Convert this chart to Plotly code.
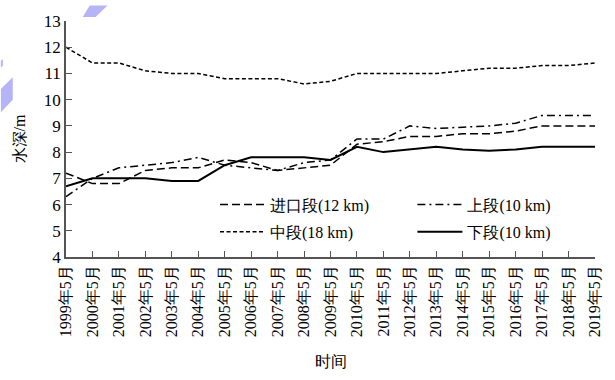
import plotly.graph_objects as go

years = [str(y) for y in range(1999, 2020)]
tick_labels = [f"{y}年5月" for y in range(1999, 2020)]

inlet = [7.2, 6.8, 6.8, 7.3, 7.4, 7.4, 7.7, 7.6, 7.3, 7.4, 7.5, 8.3, 8.4, 8.6, 8.6, 8.7, 8.7, 8.8, 9.0, 9.0, 9.0]
upper = [6.3, 7.0, 7.4, 7.5, 7.6, 7.8, 7.5, 7.4, 7.3, 7.6, 7.7, 8.5, 8.5, 9.0, 8.9, 8.95, 9.0, 9.1, 9.4, 9.4, 9.4]
middle = [12.0, 11.4, 11.4, 11.1, 11.0, 11.0, 10.8, 10.8, 10.8, 10.6, 10.7, 11.0, 11.0, 11.0, 11.0, 11.1, 11.2, 11.2, 11.3, 11.3, 11.4]
lower = [6.7, 7.0, 7.0, 7.0, 6.9, 6.9, 7.5, 7.8, 7.8, 7.8, 7.7, 8.2, 8.0, 8.1, 8.2, 8.1, 8.05, 8.1, 8.2, 8.2, 8.2]

names = ["进口段(12 km)", "上段(10 km)", "中段(18 km)", "下段(10 km)"]
series = [inlet, upper, middle, lower]
dashes = ["8px,4px", "8px,4px,2px,4px", "4px,2.5px", "solid"]
widths = [1.5, 1.5, 1.5, 2]
legend_ids = ["legend", "legend2", "legend3", "legend4"]

FONT = "Liberation Serif"

W, H = 615, 380
L, R, T, B = 66, 13, 16, 121
PW, PH = W - L - R, H - T - B

def px(x):
    return (x - L) / PW

def py(y):
    return (H - B - y) / PH

fig = go.Figure()
xi = list(range(len(years)))
for n, s, d, w, lg in zip(names, series, dashes, widths, legend_ids):
    fig.add_trace(go.Scatter(x=xi, y=s, mode="lines", name=n, legend=lg,
                             line=dict(color="black", width=w, dash=d)))

def poly(pts):
    return "M " + " L ".join(f"{px(a):.4f},{py(b):.4f}" for a, b in pts) + " Z"

shapes = []
for pts in [[(83, 12), (96, 12), (108, 0), (90, 0)],
            [(0, 86), (12, 74), (12, 97), (0, 110)],
            [(0, 57), (2, 55), (2, 62), (0, 64)]]:
    shapes.append(dict(type="path", xref="paper", yref="paper", path=poly(pts),
                       fillcolor="#b4b4f6", line=dict(width=0), layer="above"))

leg_pos = {"legend": (217, 205), "legend2": (417, 205),
           "legend3": (217, 233), "legend4": (417, 233)}
leg_layout = {}
for k, (lx, ly) in leg_pos.items():
    leg_layout[k] = dict(x=px(lx), y=py(ly), xanchor="left", yanchor="middle",
                         bgcolor="rgba(0,0,0,0)", itemwidth=45,
                         font=dict(family=FONT, size=16, color="black"))

fig.update_layout(
    width=W, height=H,
    margin=dict(l=L, r=R, t=T, b=B),
    paper_bgcolor="white", plot_bgcolor="white",
    font=dict(family=FONT, size=16, color="black"),
    showlegend=True,
    shapes=shapes,
    **leg_layout,
)
fig.update_xaxes(range=[0, len(years) - 1], tickmode="array", tickvals=xi,
                 ticktext=tick_labels, tickangle=-90, ticks="inside", ticklen=6,
                 tickcolor="#555", showline=True, linecolor="#555", linewidth=1.5,
                 showgrid=False, zeroline=False,
                 tickfont=dict(family=FONT, size=16),
                 title=dict(text="时间", font=dict(family=FONT, size=16), standoff=20))
fig.update_yaxes(range=[4, 13], dtick=1, ticks="inside", ticklen=6,
                 tickcolor="#555", showline=True, linecolor="#555", linewidth=1.5,
                 showgrid=False, zeroline=False,
                 tickfont=dict(family=FONT, size=17),
                 title=dict(text="水深/m", font=dict(family=FONT, size=16), standoff=14))

fig.write_html("out.html")
